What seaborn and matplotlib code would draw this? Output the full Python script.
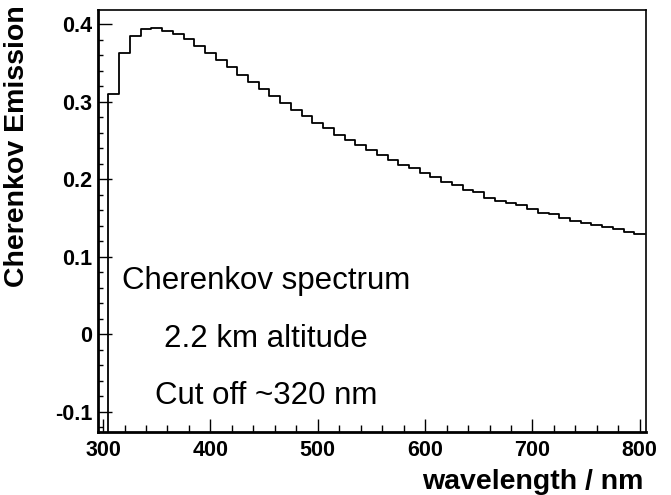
import numpy as np
import pandas as pd
import matplotlib
matplotlib.use("Agg")
import matplotlib.pyplot as plt
from matplotlib import font_manager as fm
from matplotlib.ticker import MultipleLocator
import seaborn as sns

# ---- data ----
bin_width_nm = 10
wavelength_nm = np.arange(310, 801, bin_width_nm)  # bin centres
emission = [
    0.310, 0.3625, 0.385, 0.3935, 0.3956, 0.3914, 0.3879, 0.3806, 0.3715, 0.3634,
    0.354, 0.3453, 0.3346, 0.326, 0.316, 0.307, 0.299, 0.290, 0.282, 0.273,
    0.266, 0.257, 0.251, 0.244, 0.238, 0.231, 0.225, 0.218, 0.214, 0.208,
    0.203, 0.196, 0.192, 0.186, 0.183, 0.176, 0.172, 0.170, 0.1665, 0.161,
    0.157, 0.155, 0.150, 0.146, 0.144, 0.141, 0.138, 0.1355, 0.132, 0.129,
]
xtick_values = [300, 400, 500, 600, 700, 800]
xtick_labels = ["300", "400", "500", "600", "700", "800"]
ytick_values = [-0.1, 0.0, 0.1, 0.2, 0.3, 0.4]
ytick_labels = ["-0.1", "0", "0.1", "0.2", "0.3", "0.4"]
x_label = "wavelength / nm"
y_label = "Cherenkov Emission"
annotation_lines = ["Cherenkov spectrum", "2.2 km altitude", "Cut off ~320 nm"]

df = pd.DataFrame({"wavelength": wavelength_nm, "emission": emission})
first_edge = float(df["wavelength"].iloc[0] - bin_width_nm / 2)
last_edge = float(df["wavelength"].iloc[-1] + bin_width_nm / 2)

# ---- style ----
sns.set_theme(style="ticks")
plt.rcParams["font.family"] = ["Liberation Sans", "DejaVu Sans"]
plt.rcParams["text.color"] = "black"
plt.rcParams["axes.labelcolor"] = "black"

installed = {f.name for f in fm.fontManager.ttflist}
if "Liberation Sans Narrow" in installed:
    ann_family, ann_size = ["Liberation Sans Narrow", "DejaVu Sans"], 27
else:
    ann_family, ann_size = ["Liberation Sans", "DejaVu Sans"], 22.5

fig = plt.figure(figsize=(6.71, 4.95), dpi=100)
ax = fig.add_axes([0.1456, 0.1279, 0.8167, 0.8519])

sns.histplot(data=df, x="wavelength", weights="emission",
             binwidth=bin_width_nm, binrange=(first_edge, last_edge),
             element="step", fill=False, color="black", linewidth=1.3, ax=ax)

xlim = (295, 805.5)
ylim = (-0.1258, 0.4185)
# left edge of the histogram drawn down to the frame (ROOT style)
ax.vlines(first_edge, ylim[0], df["emission"].iloc[0], color="black", linewidth=1.3)

ax.set_xlim(*xlim)
ax.set_ylim(*ylim)

ax.set_xticks(xtick_values, xtick_labels)
ax.set_yticks(ytick_values, ytick_labels)
ax.xaxis.set_minor_locator(MultipleLocator(20))
ax.yaxis.set_minor_locator(MultipleLocator(0.02))

ax.tick_params(axis="both", which="both", direction="in", colors="black",
               width=1.0, top=False, right=False)
ax.tick_params(axis="x", which="major", length=9.5, pad=6, labelsize=15.5)
ax.tick_params(axis="x", which="minor", length=4.8)
ax.tick_params(axis="y", which="major", length=10, pad=4, labelsize=15.5)
ax.tick_params(axis="y", which="minor", length=3.6)
for lab in ax.get_xticklabels() + ax.get_yticklabels():
    lab.set_fontweight("bold")

for side in ["left", "bottom"]:
    ax.spines[side].set_linewidth(2.0)
    ax.spines[side].set_color("black")
for side in ["top", "right"]:
    ax.spines[side].set_linewidth(1.2)
    ax.spines[side].set_color("black")

ax.set_xlabel("")
ax.set_ylabel("")
fig.text(643 / 671, 1 - 489 / 495, x_label, ha="right", va="baseline",
         fontsize=20.5, fontweight="bold", color="black")
fig.text(17 / 671, 1 - 5 / 495, y_label, ha="center", va="top", rotation=90,
         fontsize=20.5, fontweight="bold", color="black")

ann_baselines = [289, 347, 404]
for line, yp in zip(annotation_lines, ann_baselines):
    fig.text(266 / 671, 1 - yp / 495, line, ha="center", va="baseline",
             fontsize=ann_size, color="black", family=ann_family)

fig.savefig("out.png", dpi=100)
